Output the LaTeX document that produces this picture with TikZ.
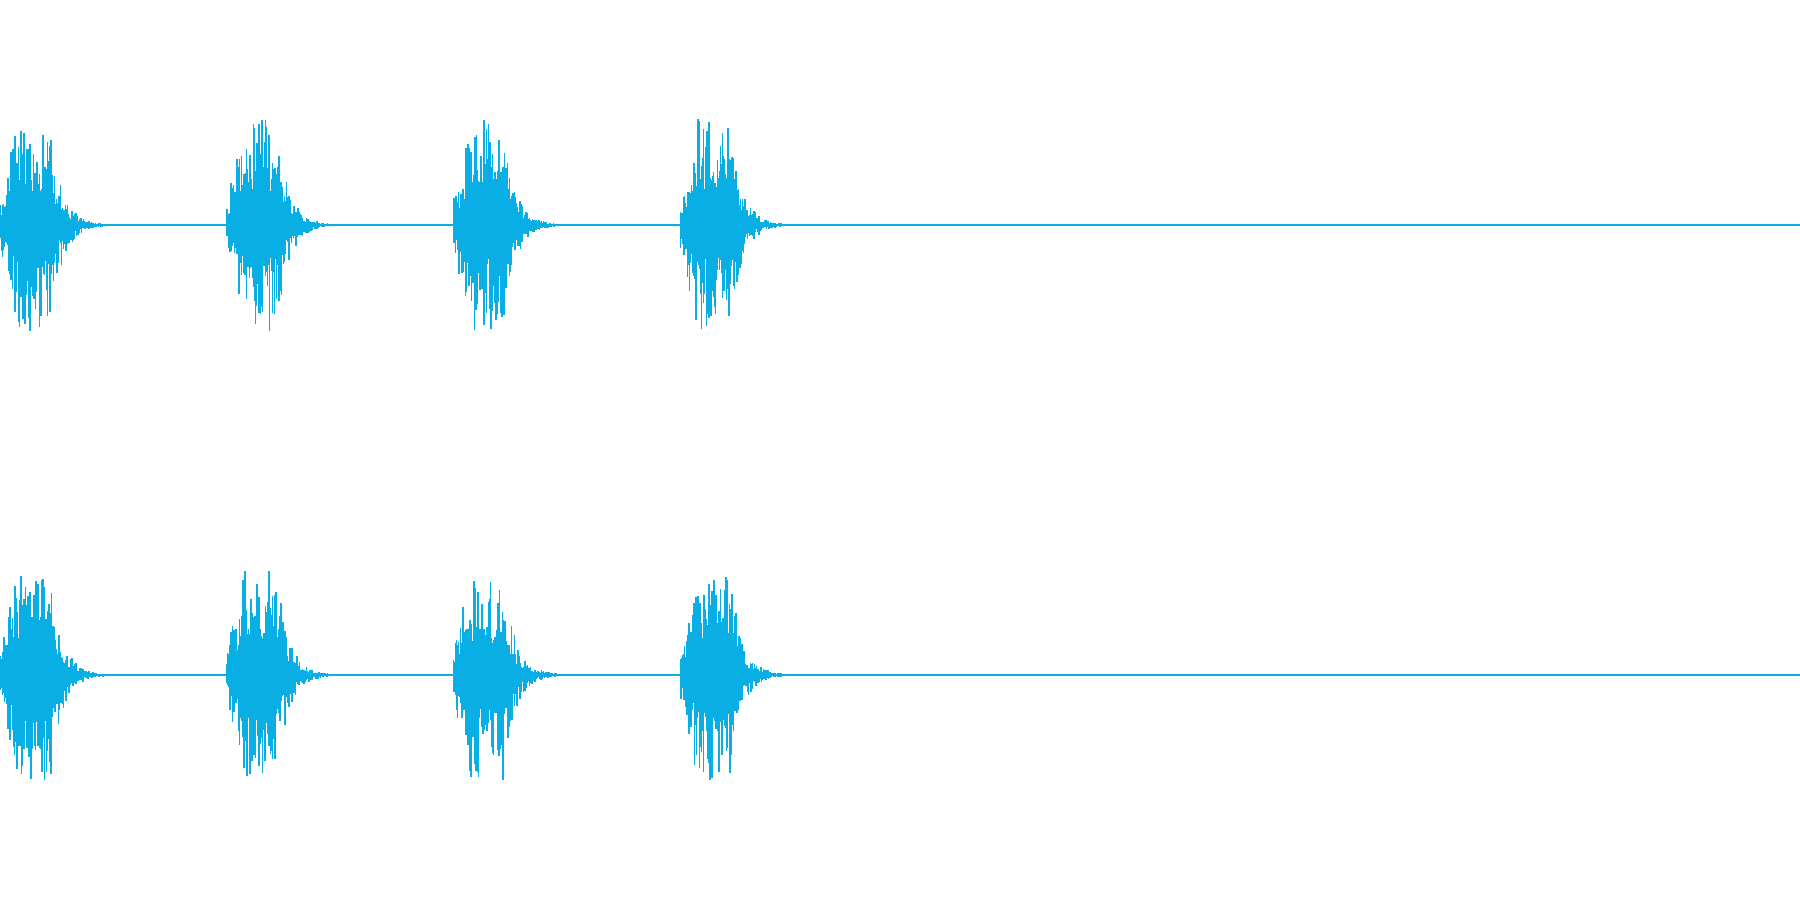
\documentclass[tikz,border=0pt]{standalone}
\definecolor{wave}{RGB}{8,174,228}
\tikzset{waveline/.style={draw=wave,line width=0.45pt}}
\begin{document}
\begin{tikzpicture}[x=1cm,y=1cm]
\useasboundingbox (0,0) rectangle (18,9);
\pgfmathsetseed{7}
\foreach \yc in {6.75,2.25}{
  \draw[draw=wave,line width=0.3pt] (0,\yc) -- (18,\yc);
  \foreach \xs in {0,2.265,4.53,6.8}{
    \foreach \t in {0.005,0.012,...,1.7}{
      \pgfmathsetmacro{\env}{min(1,0.2+\t/0.22)*(\t<0.5 ? 1 : exp(-(\t-0.5)/0.12))}
      \pgfmathsetmacro{\up}{1.06*\env*(0.3+0.7*rnd^2)+0.004}
      \pgfmathsetmacro{\dn}{1.06*\env*(0.3+0.7*rnd^2)+0.004}
      \draw[waveline] (\xs+\t,\yc+\up) -- (\xs+\t,\yc-\dn);
    }
  }
}
\end{tikzpicture}
\end{document}
